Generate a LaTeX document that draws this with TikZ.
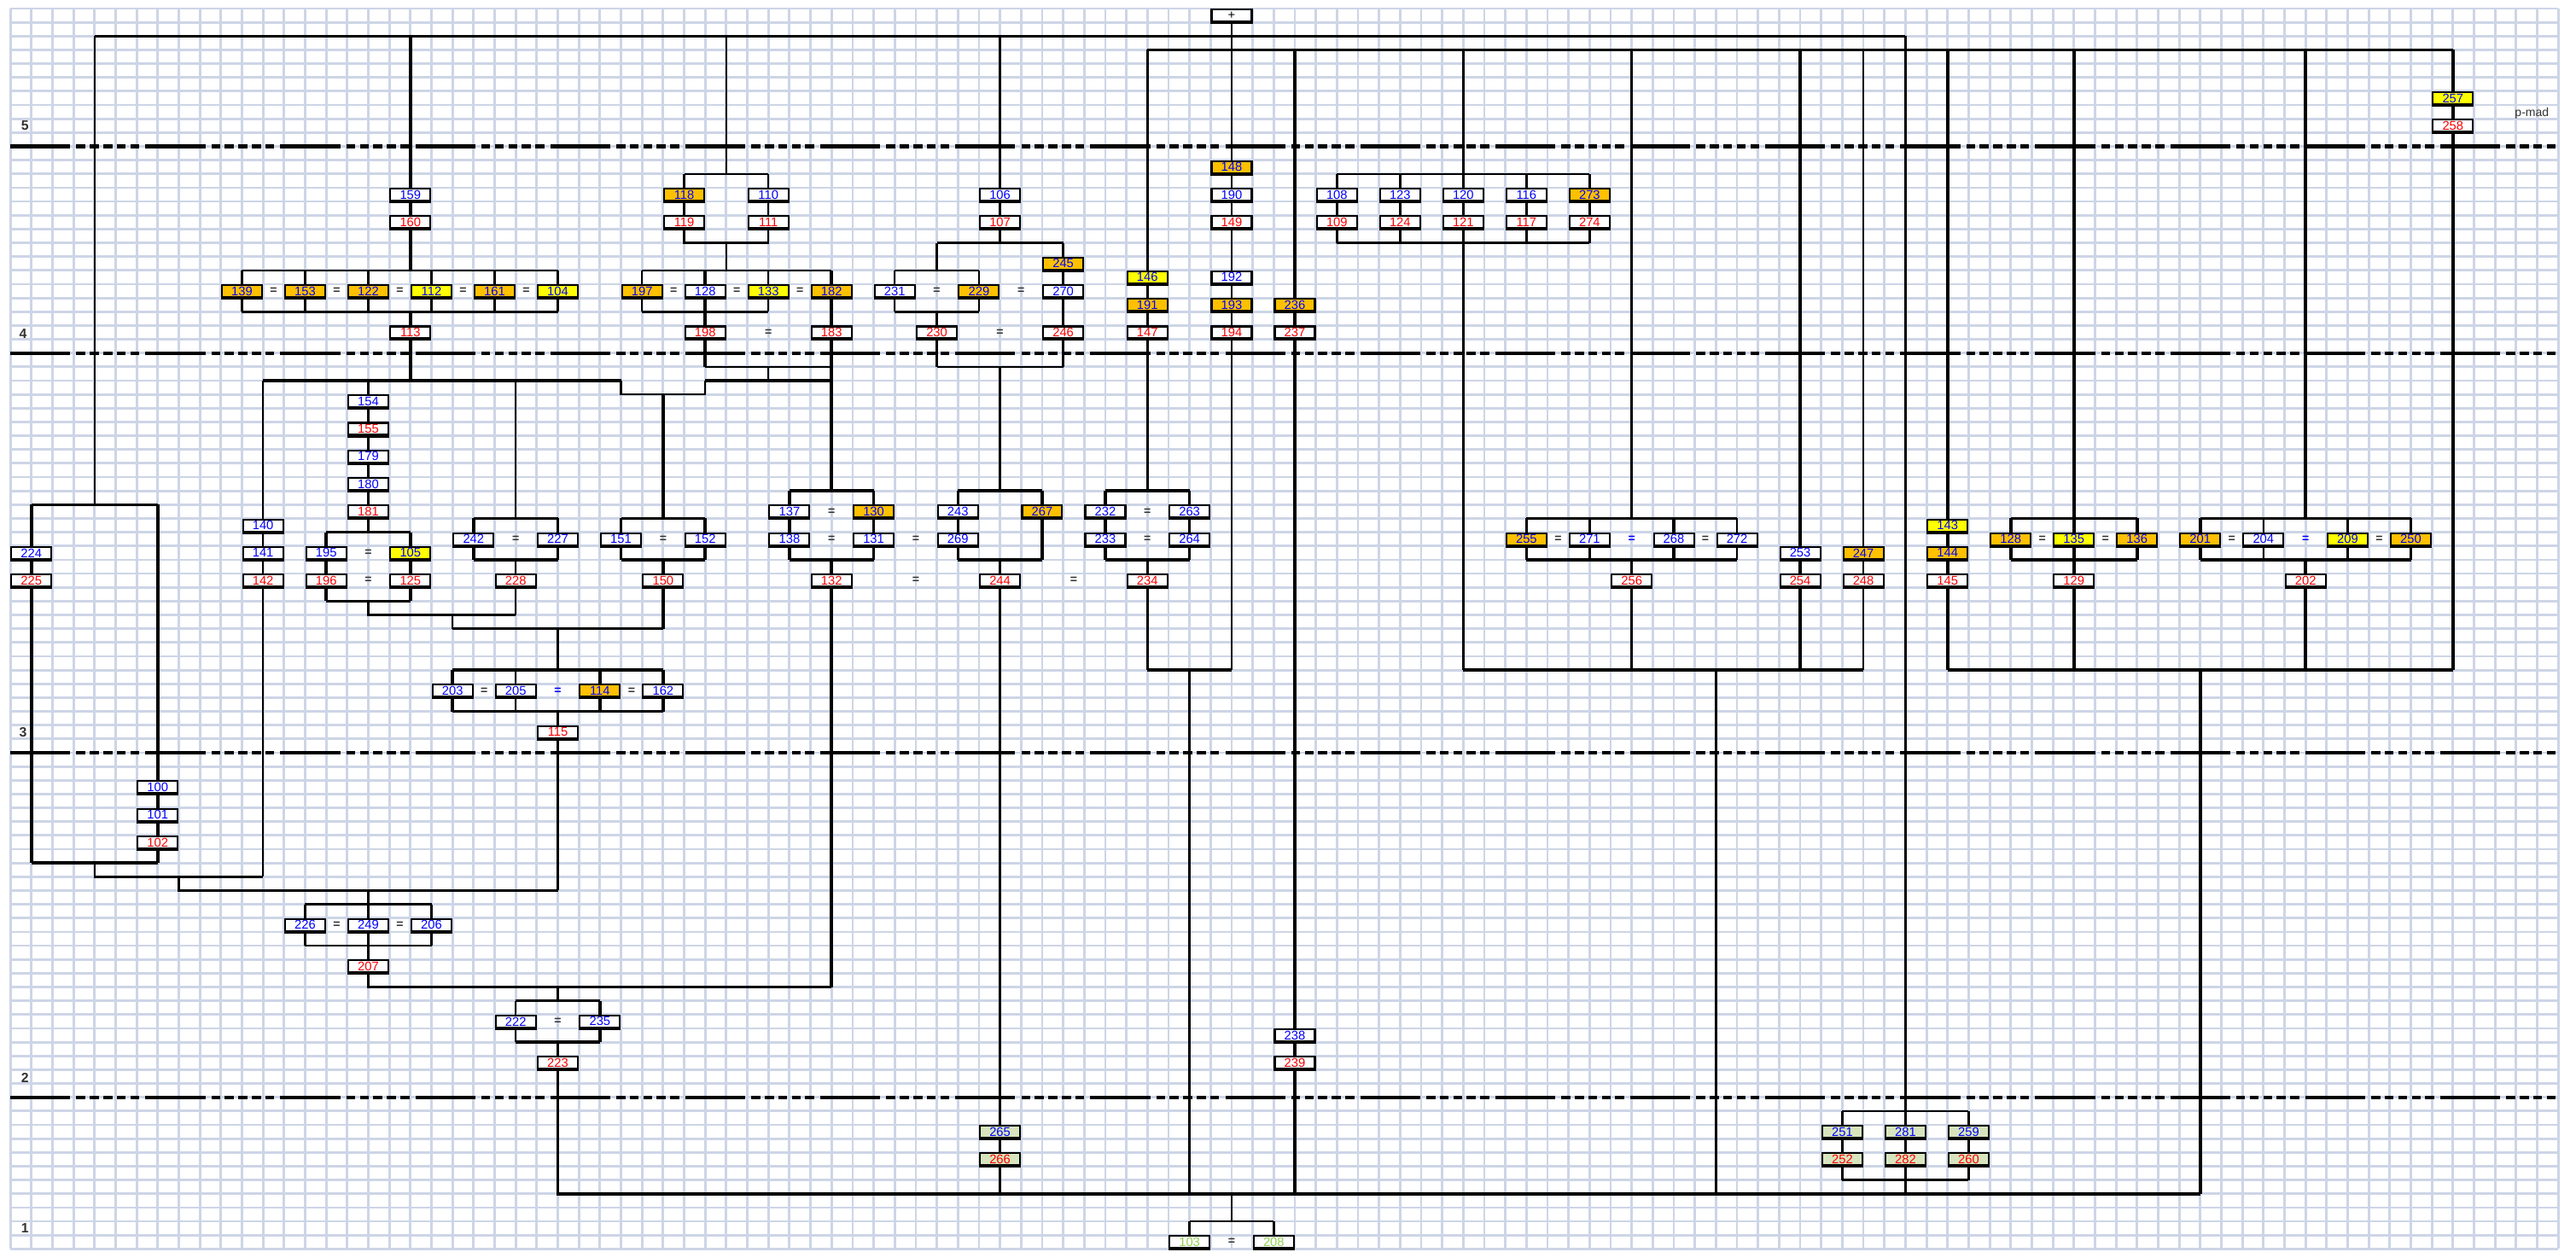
\documentclass[tikz,border=0pt]{standalone}
\usepackage{fontspec}
\setmainfont{Liberation Sans}
\usepackage{xcolor}
\definecolor{GridBlue}{HTML}{CDD5E6}
\definecolor{BoxOrange}{HTML}{FFC000}
\definecolor{BoxYellow}{HTML}{FFFF00}
\definecolor{BoxSage}{HTML}{D7E4BD}
\definecolor{NumBlue}{HTML}{0000FF}
\definecolor{NumRed}{HTML}{FF0000}
\definecolor{NumGreen}{HTML}{92D050}
\pgfdeclarelayer{grid}
\pgfdeclarelayer{wires}
\pgfsetlayers{grid,wires,main}

\begin{document}
\begin{tikzpicture}[x=0.2467cm, y=-0.16148cm,
  every node/.style={inner sep=0pt, font=\fontsize{4.2}{4.4}\selectfont},
  box/.style={draw, line width=0.6pt, fill=white, text=NumBlue, minimum width=0.47cm, minimum height=0.14cm,
    append after command={(\tikzlastnode.south west) edge[line width=1.1pt] (\tikzlastnode.south east)}},
  wb/.style={box},
  wr/.style={box, text=NumRed},
  ob/.style={box, fill=BoxOrange},
  yb/.style={box, fill=BoxYellow},
  gb/.style={box, fill=BoxSage},
  gr/.style={box, fill=BoxSage, text=NumRed},
  wg/.style={box, text=NumGreen},
  eq/.style={font=\fontsize{4}{4}\selectfont\bfseries, text=black!80},
  eqb/.style={eq, text=NumBlue},
  genlbl/.style={font=\fontsize{4.5}{5}\selectfont\bfseries, text=black!80},
  thk/.style={line width=1.0pt},
  thn/.style={line width=0.7pt},
  gen/.style={line width=1.2pt, dash pattern=on 20pt off 2pt on 3pt off 1.5pt on 3pt off 1.5pt on 3pt off 1.5pt on 3pt off 1.5pt on 3pt off 2pt}]
  \useasboundingbox (-0.4905,-0.6193) rectangle (121.845,90.166);

  % grid paper
  \begin{pgfonlayer}{grid}
    \foreach \c in {0,...,121} \draw[GridBlue, line width=0.8pt] (\c,0) -- (\c,90);
    \foreach \r in {0,...,90} \draw[GridBlue, line width=0.8pt] (0,\r) -- (121,\r);
  \end{pgfonlayer}

  % generation labels
  \node[genlbl] (g5) at (0.7,8.5) {5};
  \node[genlbl] (g4) at (0.6,23.6) {4};
  \node[genlbl] (g3) at (0.6,52.5) {3};
  \node[genlbl] (g2) at (0.7,77.6) {2};
  \node[genlbl] (g1) at (0.7,88.5) {1};
  \node[font=\fontsize{4}{4}\selectfont, text=black!80] (pmad) at (119.75,7.6) {p-mad};

  % generation 5
  \node[box, text=black] (plus) at (58,0.5) {+};
  \node[yb] (n257) at (116,6.5) {257};
  \node[wr] (n258) at (116,8.5) {258};

  % generation 4
  \node[wb] (n159) at (19,13.5) {159};
  \node[wr] (n160) at (19,15.5) {160};
  \node[ob] (n118) at (32,13.5) {118};
  \node[wb] (n110) at (36,13.5) {110};
  \node[wr] (n119) at (32,15.5) {119};
  \node[wr] (n111) at (36,15.5) {111};
  \node[wb] (n106) at (47,13.5) {106};
  \node[wr] (n107) at (47,15.5) {107};
  \node[ob] (n148) at (58,11.5) {148};
  \node[wb] (n190) at (58,13.5) {190};
  \node[wr] (n149) at (58,15.5) {149};
  \node[wb] (n108) at (63,13.5) {108};
  \node[wb] (n123) at (66,13.5) {123};
  \node[wb] (n120) at (69,13.5) {120};
  \node[wb] (n116) at (72,13.5) {116};
  \node[ob] (n273) at (75,13.5) {273};
  \node[wr] (n109) at (63,15.5) {109};
  \node[wr] (n124) at (66,15.5) {124};
  \node[wr] (n121) at (69,15.5) {121};
  \node[wr] (n117) at (72,15.5) {117};
  \node[wr] (n274) at (75,15.5) {274};

  \node[ob] (n139) at (11,20.5) {139};
  \node[eq] (e1) at (12.5,20.5) {=};
  \node[ob] (n153) at (14,20.5) {153};
  \node[eq] (e2) at (15.5,20.5) {=};
  \node[ob] (n122) at (17,20.5) {122};
  \node[eq] (e3) at (18.5,20.5) {=};
  \node[yb] (n112) at (20,20.5) {112};
  \node[eq] (e4) at (21.5,20.5) {=};
  \node[ob] (n161) at (23,20.5) {161};
  \node[eq] (e5) at (24.5,20.5) {=};
  \node[yb] (n104) at (26,20.5) {104};
  \node[wr] (n113) at (19,23.5) {113};

  \node[ob] (n197) at (30,20.5) {197};
  \node[eq] (e6) at (31.5,20.5) {=};
  \node[wb] (n128) at (33,20.5) {128};
  \node[eq] (e7) at (34.5,20.5) {=};
  \node[yb] (n133) at (36,20.5) {133};
  \node[eq] (e8) at (37.5,20.5) {=};
  \node[ob] (n182) at (39,20.5) {182};
  \node[wr] (n198) at (33,23.5) {198};
  \node[eq] (e9) at (36,23.5) {=};
  \node[wr] (n183) at (39,23.5) {183};

  \node[ob] (n245) at (50,18.5) {245};
  \node[wb] (n231) at (42,20.5) {231};
  \node[eq] (e10) at (44,20.5) {=};
  \node[ob] (n229) at (46,20.5) {229};
  \node[eq] (e11) at (48,20.5) {=};
  \node[wb] (n270) at (50,20.5) {270};
  \node[wr] (n230) at (44,23.5) {230};
  \node[eq] (e12) at (47,23.5) {=};
  \node[wr] (n246) at (50,23.5) {246};

  \node[yb] (n146) at (54,19.5) {146};
  \node[ob] (n191) at (54,21.5) {191};
  \node[wr] (n147) at (54,23.5) {147};
  \node[wb] (n192) at (58,19.5) {192};
  \node[ob] (n193) at (58,21.5) {193};
  \node[wr] (n194) at (58,23.5) {194};
  \node[ob] (n236) at (61,21.5) {236};
  \node[wr] (n237) at (61,23.5) {237};

  % generation 3
  \node[wb] (n154) at (17,28.5) {154};
  \node[wr] (n155) at (17,30.5) {155};
  \node[wb] (n179) at (17,32.5) {179};
  \node[wb] (n180) at (17,34.5) {180};
  \node[wr] (n181) at (17,36.5) {181};
  \node[wb] (n140) at (12,37.5) {140};
  \node[wb] (n141) at (12,39.5) {141};
  \node[wr] (n142) at (12,41.5) {142};
  \node[wb] (n224) at (1,39.5) {224};
  \node[wr] (n225) at (1,41.5) {225};
  \node[wb] (n195) at (15,39.5) {195};
  \node[eq] (e13) at (17,39.5) {=};
  \node[yb] (n105) at (19,39.5) {105};
  \node[wr] (n196) at (15,41.5) {196};
  \node[eq] (e14) at (17,41.5) {=};
  \node[wr] (n125) at (19,41.5) {125};
  \node[wb] (n242) at (22,38.5) {242};
  \node[eq] (e15) at (24,38.5) {=};
  \node[wb] (n227) at (26,38.5) {227};
  \node[wr] (n228) at (24,41.5) {228};
  \node[wb] (n151) at (29,38.5) {151};
  \node[eq] (e16) at (31,38.5) {=};
  \node[wb] (n152) at (33,38.5) {152};
  \node[wr] (n150) at (31,41.5) {150};

  \node[wb] (n137) at (37,36.5) {137};
  \node[eq] (e17) at (39,36.5) {=};
  \node[ob] (n130) at (41,36.5) {130};
  \node[wb] (n138) at (37,38.5) {138};
  \node[eq] (e18) at (39,38.5) {=};
  \node[wb] (n131) at (41,38.5) {131};
  \node[eq] (e19) at (43,38.5) {=};
  \node[wr] (n132) at (39,41.5) {132};
  \node[eq] (e20) at (43,41.5) {=};
  \node[wb] (n243) at (45,36.5) {243};
  \node[ob] (n267) at (49,36.5) {267};
  \node[wb] (n269) at (45,38.5) {269};
  \node[wr] (n244) at (47,41.5) {244};
  \node[eq] (e21) at (50.5,41.5) {=};
  \node[wb] (n232) at (52,36.5) {232};
  \node[eq] (e22) at (54,36.5) {=};
  \node[wb] (n263) at (56,36.5) {263};
  \node[wb] (n233) at (52,38.5) {233};
  \node[eq] (e23) at (54,38.5) {=};
  \node[wb] (n264) at (56,38.5) {264};
  \node[wr] (n234) at (54,41.5) {234};

  \node[ob] (n255) at (72,38.5) {255};
  \node[eq] (e24) at (73.5,38.5) {=};
  \node[wb] (n271) at (75,38.5) {271};
  \node[eqb] (e25) at (77,38.5) {=};
  \node[wb] (n268) at (79,38.5) {268};
  \node[eq] (e26) at (80.5,38.5) {=};
  \node[wb] (n272) at (82,38.5) {272};
  \node[wr] (n256) at (77,41.5) {256};
  \node[wb] (n253) at (85,39.5) {253};
  \node[wr] (n254) at (85,41.5) {254};
  \node[ob] (n247) at (88,39.5) {247};
  \node[wr] (n248) at (88,41.5) {248};

  \node[yb] (n143) at (92,37.5) {143};
  \node[ob] (n144) at (92,39.5) {144};
  \node[wr] (n145) at (92,41.5) {145};
  \node[ob] (n128b) at (95,38.5) {128};
  \node[eq] (e27) at (96.5,38.5) {=};
  \node[yb] (n135) at (98,38.5) {135};
  \node[eq] (e28) at (99.5,38.5) {=};
  \node[ob] (n136) at (101,38.5) {136};
  \node[wr] (n129) at (98,41.5) {129};
  \node[ob] (n201) at (104,38.5) {201};
  \node[eq] (e29) at (105.5,38.5) {=};
  \node[wb] (n204) at (107,38.5) {204};
  \node[eqb] (e30) at (109,38.5) {=};
  \node[yb] (n209) at (111,38.5) {209};
  \node[eq] (e31) at (112.5,38.5) {=};
  \node[ob] (n250) at (114,38.5) {250};
  \node[wr] (n202) at (109,41.5) {202};

  \node[wb] (n203) at (21,49.5) {203};
  \node[eq] (e32) at (22.5,49.5) {=};
  \node[wb] (n205) at (24,49.5) {205};
  \node[eqb] (e33) at (26,49.5) {=};
  \node[ob] (n114) at (28,49.5) {114};
  \node[eq] (e34) at (29.5,49.5) {=};
  \node[wb] (n162) at (31,49.5) {162};
  \node[wr] (n115) at (26,52.5) {115};

  % generation 2
  \node[wb] (n100) at (7,56.5) {100};
  \node[wb] (n101) at (7,58.5) {101};
  \node[wr] (n102) at (7,60.5) {102};
  \node[wb] (n226) at (14,66.5) {226};
  \node[eq] (e35) at (15.5,66.5) {=};
  \node[wb] (n249) at (17,66.5) {249};
  \node[eq] (e36) at (18.5,66.5) {=};
  \node[wb] (n206) at (20,66.5) {206};
  \node[wr] (n207) at (17,69.5) {207};
  \node[wb] (n222) at (24,73.5) {222};
  \node[eq] (e37) at (26,73.5) {=};
  \node[wb] (n235) at (28,73.5) {235};
  \node[wr] (n223) at (26,76.5) {223};
  \node[wb] (n238) at (61,74.5) {238};
  \node[wr] (n239) at (61,76.5) {239};

  % generation 1
  \node[gb] (n265) at (47,81.5) {265};
  \node[gr] (n266) at (47,83.5) {266};
  \node[gb] (n251) at (87,81.5) {251};
  \node[gb] (n281) at (90,81.5) {281};
  \node[gb] (n259) at (93,81.5) {259};
  \node[gr] (n252) at (87,83.5) {252};
  \node[gr] (n282) at (90,83.5) {282};
  \node[gr] (n260) at (93,83.5) {260};
  \node[wg] (n103) at (56,89.5) {103};
  \node[eq] (e38) at (58,89.5) {=};
  \node[wg] (n208) at (60,89.5) {208};

  \begin{pgfonlayer}{wires}
    % generation separators
    \draw[gen] (0,10) -- (121,10);
    \draw[gen] (0,25) -- (121,25);
    \draw[gen] (0,54) -- (121,54);
    \draw[gen] (0,79) -- (121,79);

    % top lines
    \draw[thn] (4,2) -- (90,2);
    \draw[thn] (54,3) -- (116,3);
    \draw[thn] (plus) -- (n148) -- (n190) -- (n149) -- (n192) -- (n193) -- (n194) -- (58,48);
    \draw[thk] (19,2) -- (n159) -- (n160) -- (19,19);
    \draw[thn] (4,2) -- (4,36);
    \draw[thn] (34,2) -- (34,12) (32,12) -- (36,12);
    \draw[thn] (32,12) -- (n118) -- (n119) -- (32,17) -- (36,17) -- (n111) -- (n110) -- (36,12);
    \draw[thn] (34,17) -- (34,19);
    \draw[thn] (47,2) -- (n106) -- (n107) -- (47,17);

    % big couple group
    \draw[thn] (11,19) -- (26,19) (11,22) -- (26,22);
    \draw[thn] (11,19) -- (n139) -- (11,22);
    \draw[thk] (14,19) -- (n153) -- (14,22);
    \draw[thn] (17,19) -- (n122) -- (17,22);
    \draw[thk] (20,19) -- (n112) -- (20,22);
    \draw[thn] (23,19) -- (n161) -- (23,22);
    \draw[thn] (26,19) -- (n104) -- (26,22);
    \draw[thk] (19,22) -- (n113) -- (19,27);

    % 197 group
    \draw[thn] (30,19) -- (39,19) (30,22) -- (36,22);
    \draw[thn] (30,19) -- (n197) -- (30,22);
    \draw[thn] (36,19) -- (n133) -- (36,22);
    \draw[thk] (33,19) -- (n128) -- (n198) -- (33,26);
    \draw[thk] (39,19) -- (n182) -- (n183) -- (39,35);
    \draw[thn] (33,26) -- (39,26);
    \draw[thn] (36,26) -- (36,27);
    \draw[thk] (33,27) -- (39,27);

    % 231 group
    \draw[thn] (44,17) -- (50,17);
    \draw[thk] (44,17) -- (44,19);
    \draw[thn] (42,19) -- (46,19) (42,22) -- (46,22);
    \draw[thn] (42,19) -- (n231) -- (42,22);
    \draw[thn] (46,19) -- (n229) -- (46,22);
    \draw[thk] (44,22) -- (n230) -- (44,26);
    \draw[thk] (50,17) -- (n245) -- (n270) -- (n246) -- (50,26);
    \draw[thn] (44,26) -- (50,26);
    \draw[thn] (47,26) -- (47,35);

    % single lines from the top
    \draw[thn] (54,3) -- (n146) -- (n191) -- (n147) -- (54,35);
    \draw[thk] (61,3) -- (n236) -- (n237) -- (n238) -- (n239) -- (61,86);
    \draw[thn] (63,12) -- (75,12) (63,17) -- (75,17);
    \draw[thn] (63,12) -- (n108) -- (n109) -- (63,17);
    \draw[thn] (66,12) -- (n123) -- (n124) -- (66,17);
    \draw[thn] (72,12) -- (n116) -- (n117) -- (72,17);
    \draw[thn] (75,12) -- (n273) -- (n274) -- (75,17);
    \draw[thk] (69,3) -- (n120) -- (n121) -- (69,48);
    \draw[thn] (77,3) -- (77,37);
    \draw[thk] (85,3) -- (n253) -- (n254) -- (85,48);
    \draw[thn] (88,3) -- (n247) -- (n248) -- (88,48);
    \draw[thk] (90,2) -- (n281) -- (n282) -- (90,86);
    \draw[thk] (92,3) -- (n143) -- (n144) -- (n145) -- (92,48);
    \draw[thk] (98,3) -- (n135) -- (n129) -- (98,48);
    \draw[thk] (109,3) -- (109,37);
    \draw[thk] (109,40) -- (n202) -- (109,48);
    \draw[thk] (116,3) -- (n257) -- (n258) -- (116,48);

    % right groups
    \draw[thk] (72,37) -- (82,37) (72,40) -- (82,40);
    \draw[thn] (72,37) -- (n255) -- (72,40);
    \draw[thn] (75,37) -- (n271) -- (75,40);
    \draw[thk] (79,37) -- (n268) -- (79,40);
    \draw[thn] (82,37) -- (n272) -- (82,40);
    \draw[thn] (77,40) -- (n256) -- (77,48);
    \draw[thk] (69,48) -- (88,48);
    \draw[thn] (81,48) -- (81,86);
    \draw[thk] (95,37) -- (101,37) (95,40) -- (101,40);
    \draw[thk] (95,37) -- (n128b) -- (95,40);
    \draw[thk] (101,37) -- (n136) -- (101,40);
    \draw[thk] (104,37) -- (114,37) (104,40) -- (114,40);
    \draw[thk] (104,37) -- (n201) -- (104,40);
    \draw[thn] (107,37) -- (n204) -- (107,40);
    \draw[thn] (111,37) -- (n209) -- (111,40);
    \draw[thk] (114,37) -- (n250) -- (114,40);
    \draw[thk] (92,48) -- (116,48);
    \draw[thk] (104,48) -- (104,86);

    % middle groups
    \draw[thk] (37,35) -- (41,35) (37,40) -- (41,40);
    \draw[thk] (37,35) -- (n137) -- (n138) -- (37,40);
    \draw[thk] (41,35) -- (n130) -- (n131) -- (41,40);
    \draw[thk] (39,40) -- (n132) -- (39,71);
    \draw[thk] (45,35) -- (49,35) (45,40) -- (49,40);
    \draw[thk] (45,35) -- (n243) -- (n269) -- (45,40);
    \draw[thk] (49,35) -- (n267) -- (49,40);
    \draw[thn] (47,40) -- (n244) -- (n265) -- (n266) -- (47,86);
    \draw[thk] (52,35) -- (56,35) (52,40) -- (56,40);
    \draw[thk] (52,35) -- (n232) -- (n233) -- (52,40);
    \draw[thk] (56,35) -- (n263) -- (n264) -- (56,40);
    \draw[thn] (54,40) -- (n234) -- (54,48);
    \draw[thk] (54,48) -- (58,48);
    \draw[thk] (56,48) -- (56,86);

    % left groups
    \draw[thk] (12,27) -- (29,27);
    \draw[thn] (12,27) -- (n140) -- (n141) -- (n142) -- (12,63);
    \draw[thn] (17,27) -- (n154) -- (n155) -- (n179) -- (n180) -- (n181) -- (17,38);
    \draw[thn] (24,27) -- (24,37);
    \draw[thn] (29,27) -- (29,28) -- (33,28) -- (33,27);
    \draw[thk] (31,28) -- (31,37);
    \draw[thk] (15,38) -- (19,38) (15,43) -- (19,43);
    \draw[thk] (15,38) -- (n195) -- (n196) -- (15,43);
    \draw[thk] (19,38) -- (n105) -- (n125) -- (19,43);
    \draw[thn] (17,43) -- (17,44) -- (24,44);
    \draw[thk] (22,37) -- (26,37) (22,40) -- (26,40);
    \draw[thk] (22,37) -- (n242) -- (22,40);
    \draw[thk] (26,37) -- (n227) -- (26,40);
    \draw[thn] (24,40) -- (n228) -- (24,44);
    \draw[thk] (29,37) -- (33,37) (29,40) -- (33,40);
    \draw[thn] (29,37) -- (n151) -- (29,40);
    \draw[thk] (33,37) -- (n152) -- (33,40);
    \draw[thk] (31,40) -- (n150) -- (31,45);
    \draw[thn] (21,44) -- (21,45);
    \draw[thk] (21,45) -- (31,45);
    \draw[thk] (26,45) -- (26,48);
    \draw[thk] (21,48) -- (31,48) (21,51) -- (31,51);
    \draw[thk] (21,48) -- (n203) -- (21,51);
    \draw[thn] (24,48) -- (n205) -- (24,51);
    \draw[thk] (28,48) -- (n114) -- (28,51);
    \draw[thk] (31,48) -- (n162) -- (31,51);
    \draw[thk] (26,51) -- (n115) -- (26,64);

    \draw[thn] (1,36) -- (7,36);
    \draw[thk] (1,36) -- (n224) -- (n225) -- (1,62);
    \draw[thk] (7,36) -- (n100) -- (n101) -- (n102) -- (7,62);
    \draw[thk] (1,62) -- (7,62);
    \draw[thn] (4,62) -- (4,63) -- (12,63);
    \draw[thk] (8,63) -- (8,64) -- (26,64);

    % lower groups
    \draw[thn] (17,64) -- (17,65);
    \draw[thk] (14,65) -- (20,65);
    \draw[thn] (14,68) -- (20,68);
    \draw[thk] (14,65) -- (n226) -- (14,68);
    \draw[thk] (20,65) -- (n206) -- (20,68);
    \draw[thn] (17,65) -- (n249) -- (n207) -- (17,71) -- (39,71);
    \draw[thn] (26,71) -- (26,72);
    \draw[thk] (24,72) -- (28,72) (24,75) -- (28,75);
    \draw[thn] (24,72) -- (n222) -- (24,75);
    \draw[thk] (28,72) -- (n235) -- (28,75);
    \draw[thk] (26,75) -- (n223) -- (26,86) -- (104,86);
    \draw[thn] (87,80) -- (93,80) (87,85) -- (93,85);
    \draw[thn] (87,80) -- (n251) -- (n252) -- (87,85);
    \draw[thn] (93,80) -- (n259) -- (n260) -- (93,85);
    \draw[thn] (58,86) -- (58,88);
    \draw[thn] (56,88) -- (60,88);
    \draw[thk] (56,88) -- (n103);
    \draw[thk] (60,88) -- (n208);
  \end{pgfonlayer}
\end{tikzpicture}
\end{document}
